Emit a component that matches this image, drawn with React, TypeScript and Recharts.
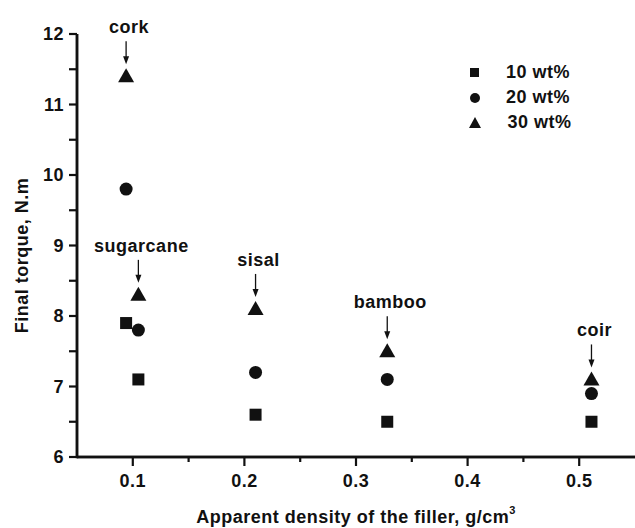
import React from 'react';
import { Legend, Scatter, ScatterChart, XAxis, YAxis } from 'recharts';

// filler types, their apparent density (g/cm3) and final torque (N.m) per loading
const fillers = ['cork', 'sugarcane', 'sisal', 'bamboo', 'coir'];
const density = [0.094, 0.105, 0.21, 0.328, 0.511];
const torque10 = [7.9, 7.1, 6.6, 6.5, 6.5];
const torque20 = [9.8, 7.8, 7.2, 7.1, 6.9];
const torque30 = [11.4, 8.3, 8.1, 7.5, 7.1];

const seriesNames = ['10 wt%', '20 wt%', '30 wt%'];
const xTicks = [0.1, 0.15, 0.2, 0.25, 0.3, 0.35, 0.4, 0.45, 0.5];
const yTicks = [6, 6.5, 7, 7.5, 8, 8.5, 9, 9.5, 10, 10.5, 11, 11.5, 12];

const INK = '#111';
const FONT = '"Liberation Sans", Arial, Helvetica, sans-serif';
const TICK = 8;

const toPoints = (values: number[]) =>
  values.map((t, i) => ({ x: density[i], y: t, name: fillers[i] }));

const data10 = toPoints(torque10);
const data20 = toPoints(torque20);
const data30 = toPoints(torque30);

function SquareMark({ cx, cy }: any) {
  return <rect x={cx - 6} y={cy - 6} width={12} height={12} fill={INK} />;
}

function CircleMark({ cx, cy }: any) {
  return <circle cx={cx} cy={cy} r={6.5} fill={INK} />;
}

// triangle marker; also carries the filler name with a down arrow above it
function TriangleMark({ cx, cy, payload }: any) {
  return (
    <g>
      <polygon points={`${cx - 8},${cy + 6} ${cx + 8},${cy + 6} ${cx},${cy - 8}`} fill={INK} />
      <path d={`M${cx},${cy - 35} V${cy - 18}`} stroke={INK} strokeWidth={1.3} fill="none" />
      <polygon points={`${cx - 3},${cy - 20} ${cx + 3},${cy - 20} ${cx},${cy - 12}`} fill={INK} />
      <text x={cx + 3} y={cy - 43} textAnchor="middle" fontFamily={FONT} fontWeight={700} fontSize={18} letterSpacing={0.5} fill={INK}>
        {payload.name}
      </text>
    </g>
  );
}

const isMajor = (v: number, step: number) => Math.abs(v / step - Math.round(v / step)) < 1e-6;

function XTick({ x, y, payload }: any) {
  const major = isMajor(payload.value, 0.1);
  return (
    <g>
      <path d={`M${x},${y - TICK} V${y - TICK + (major ? 9 : 5)}`} stroke={INK} strokeWidth={2.2} fill="none" />
      {major && (
        <text x={x} y={y + 22} textAnchor="middle" fontFamily={FONT} fontWeight={700} fontSize={18} letterSpacing={0.5} fill={INK}>
          {payload.value.toFixed(1)}
        </text>
      )}
    </g>
  );
}

// axis titles (and a backup stroke for both axis lines) drawn from the x-axis box
function AxisTitles({ viewBox }: any) {
  const { x, y, width } = viewBox;
  const cx = x + width / 2;
  const yTitleY = y - (y - 34) / 2 + 10;
  const yTitleX = 22;
  return (
    <g>
      <path d={`M${x},${y} H${x + width}`} stroke={INK} strokeWidth={2.5} fill="none" />
      <path d={`M${x},${y + 1.25} V34`} stroke={INK} strokeWidth={2.5} fill="none" />
      <g fontFamily={FONT} fontWeight={700} fontSize={18} letterSpacing={0.5} fill={INK}>
        <text x={cx} y={y + 66} textAnchor="middle">
          <tspan>Apparent density of the filler, g/cm</tspan>
          <tspan dy={-9} fontSize={11}>3</tspan>
        </text>
        <text x={yTitleX} y={yTitleY} dy="0.36em" textAnchor="middle" transform={`rotate(-90 ${yTitleX} ${yTitleY})`}>
          Final torque, N.m
        </text>
      </g>
    </g>
  );
}

const iconBase = { display: 'inline-block', flex: 'none' } as const;
const legendIcons = [
  <span key="s" style={{ ...iconBase, width: 9, height: 9, marginLeft: 3, marginRight: 27, background: INK }} />,
  <span key="c" style={{ ...iconBase, width: 10, height: 10, marginLeft: 2.5, marginRight: 26.5, borderRadius: '50%', background: INK }} />,
  <span
    key="t"
    style={{
      ...iconBase,
      width: 0,
      height: 0,
      marginLeft: 1.5,
      marginRight: 27,
      borderLeft: '6px solid transparent',
      borderRight: '6px solid transparent',
      borderBottom: `11px solid ${INK}`,
    }}
  />,
];

const legendContent = (
  <div style={{ fontFamily: FONT, fontWeight: 700, fontSize: 18, letterSpacing: 0.5, color: INK }}>
    {seriesNames.map((name, i) => (
      <div key={name} style={{ display: 'flex', alignItems: 'center', height: 25 }}>
        {legendIcons[i]}
        <span>{name}</span>
      </div>
    ))}
  </div>
);

export default function App() {
  return (
    <div style={{ position: 'absolute', left: 0, top: 0, width: 635, height: 528 }}>
      <ScatterChart width={635} height={528} margin={{ top: 34, right: 0, bottom: 0, left: 0 }}>
        <XAxis
          type="number"
          dataKey="x"
          domain={[0.05, 0.55]}
          ticks={xTicks}
          interval={0}
          height={71}
          tickSize={TICK}
          tickMargin={0}
          tickLine={false}
          tick={<XTick />}
          axisLine={{ stroke: INK, strokeWidth: 2.5 }}
          label={<AxisTitles />}
        />
        <YAxis
          type="number"
          dataKey="y"
          domain={[6, 12]}
          ticks={yTicks}
          interval={0}
          width={77}
          tickSize={TICK}
          tickMargin={5}
          tickLine={{ stroke: INK, strokeWidth: 2.2 }}
          tickFormatter={(v: number) => (isMajor(v, 1) ? String(v) : '')}
          tick={{ fill: INK, fontSize: 18, fontWeight: 700, fontFamily: FONT, letterSpacing: 0.5 }}
          axisLine={{ stroke: INK, strokeWidth: 2.5 }}
        />
        <Legend
          layout="vertical"
          align="center"
          verticalAlign="middle"
          content={legendContent}
          wrapperStyle={{ left: 467, top: 60, width: 140, height: 78 }}
        />
        <Scatter name={seriesNames[0]} data={data10} fill={INK} shape={<SquareMark />} isAnimationActive={false} />
        <Scatter name={seriesNames[1]} data={data20} fill={INK} shape={<CircleMark />} isAnimationActive={false} />
        <Scatter name={seriesNames[2]} data={data30} fill={INK} shape={<TriangleMark />} isAnimationActive={false} />
      </ScatterChart>
    </div>
  );
}
